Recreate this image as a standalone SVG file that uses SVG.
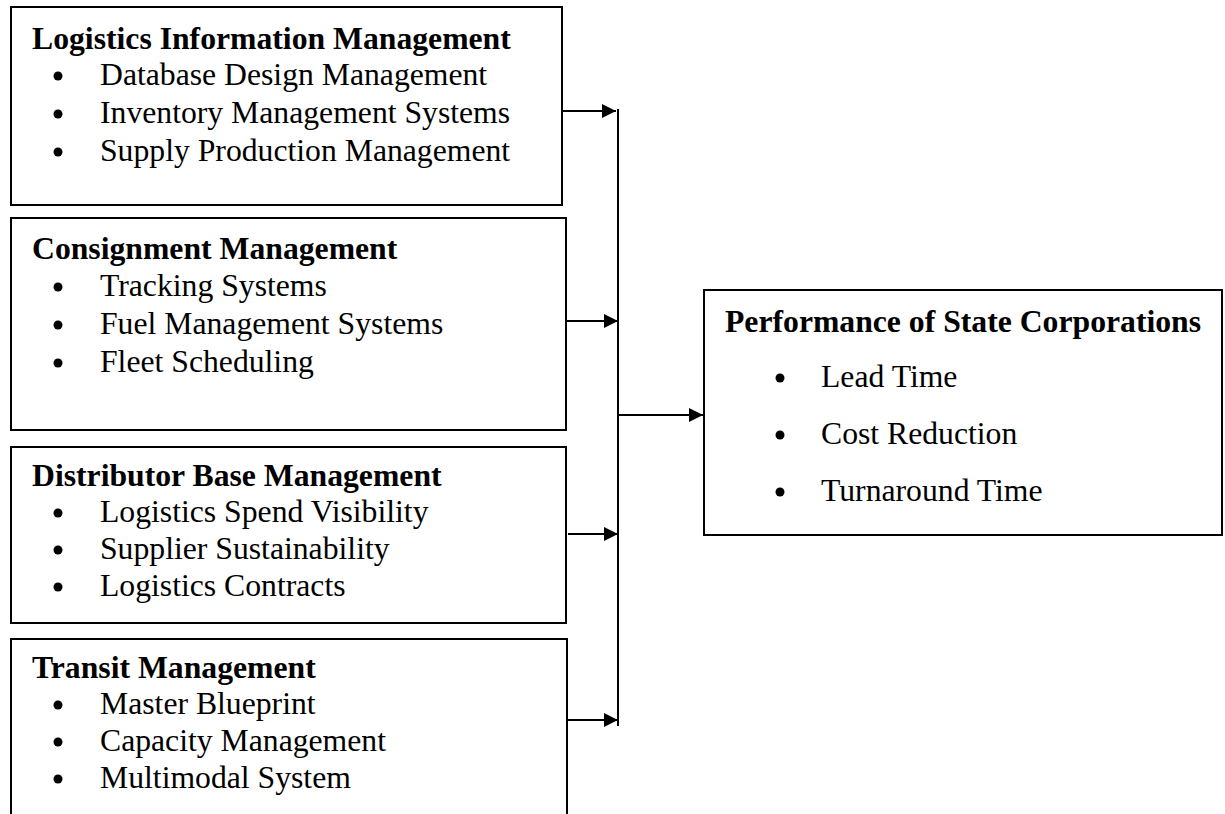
<svg xmlns="http://www.w3.org/2000/svg" width="1225" height="814" viewBox="0 0 1225 814">
  <style>
    .box { fill: #ffffff; stroke: #000000; stroke-width: 2; }
    .title { font-family: "Liberation Serif", "Times New Roman", serif; font-weight: bold; font-size: 31.7px; fill: #000000; }
    .item { font-family: "Liberation Serif", "Times New Roman", serif; font-size: 31.7px; fill: #000000; }
    .dot { fill: #000000; }
    .wire { fill: none; stroke: #000000; stroke-width: 2; }
  </style>
  <defs>
    <marker id="head" viewBox="0 0 10 10" refX="10" refY="5" markerWidth="7.5" markerHeight="7" markerUnits="strokeWidth" orient="auto">
      <path d="M0,0 L10,5 L0,10 z" fill="#000000"/>
    </marker>
  </defs>
  <rect width="1225" height="814" fill="#ffffff"/>

  <g id="logistics-information">
    <rect class="box" x="11" y="7" width="551" height="198"/>
    <text class="title" x="32" y="49">Logistics Information Management</text>
    <circle class="dot" cx="58" cy="76" r="4.5"/>
    <text class="item" x="100" y="85">Database Design Management</text>
    <circle class="dot" cx="58" cy="114" r="4.5"/>
    <text class="item" x="100" y="123">Inventory Management Systems</text>
    <circle class="dot" cx="58" cy="152" r="4.5"/>
    <text class="item" x="100" y="161">Supply Production Management</text>
  </g>

  <g id="consignment">
    <rect class="box" x="11" y="218" width="555" height="212"/>
    <text class="title" x="32" y="259">Consignment Management</text>
    <circle class="dot" cx="58" cy="287" r="4.5"/>
    <text class="item" x="100" y="296">Tracking Systems</text>
    <circle class="dot" cx="58" cy="325" r="4.5"/>
    <text class="item" x="100" y="334">Fuel Management Systems</text>
    <circle class="dot" cx="58" cy="363" r="4.5"/>
    <text class="item" x="100" y="372">Fleet Scheduling</text>
  </g>

  <g id="distributor-base">
    <rect class="box" x="11" y="447" width="555" height="176"/>
    <text class="title" x="32" y="486">Distributor Base Management</text>
    <circle class="dot" cx="58" cy="513" r="4.5"/>
    <text class="item" x="100" y="522">Logistics Spend Visibility</text>
    <circle class="dot" cx="58" cy="550" r="4.5"/>
    <text class="item" x="100" y="559">Supplier Sustainability</text>
    <circle class="dot" cx="58" cy="587" r="4.5"/>
    <text class="item" x="100" y="596">Logistics Contracts</text>
  </g>

  <g id="transit">
    <rect class="box" x="11" y="639" width="556" height="190"/>
    <text class="title" x="32" y="678">Transit Management</text>
    <circle class="dot" cx="58" cy="705" r="4.5"/>
    <text class="item" x="100" y="714">Master Blueprint</text>
    <circle class="dot" cx="58" cy="742" r="4.5"/>
    <text class="item" x="100" y="751">Capacity Management</text>
    <circle class="dot" cx="58" cy="779" r="4.5"/>
    <text class="item" x="100" y="788">Multimodal System</text>
  </g>

  <g id="performance">
    <rect class="box" x="704" y="290" width="518" height="245"/>
    <text class="title" x="725" y="332">Performance of State Corporations</text>
    <circle class="dot" cx="780" cy="378" r="4.5"/>
    <text class="item" x="821" y="387">Lead Time</text>
    <circle class="dot" cx="780" cy="435" r="4.5"/>
    <text class="item" x="821" y="444">Cost Reduction</text>
    <circle class="dot" cx="780" cy="492" r="4.5"/>
    <text class="item" x="821" y="501">Turnaround Time</text>
  </g>

  <g id="connectors">
    <line class="wire" x1="618" y1="109" x2="618" y2="726"/>
    <line class="wire" x1="562" y1="111" x2="616" y2="111" marker-end="url(#head)"/>
    <line class="wire" x1="566" y1="321" x2="618" y2="321" marker-end="url(#head)"/>
    <line class="wire" x1="568" y1="534" x2="618" y2="534" marker-end="url(#head)"/>
    <line class="wire" x1="568" y1="720" x2="618" y2="720" marker-end="url(#head)"/>
    <line class="wire" x1="618" y1="415" x2="703" y2="415" marker-end="url(#head)"/>
  </g>
</svg>
